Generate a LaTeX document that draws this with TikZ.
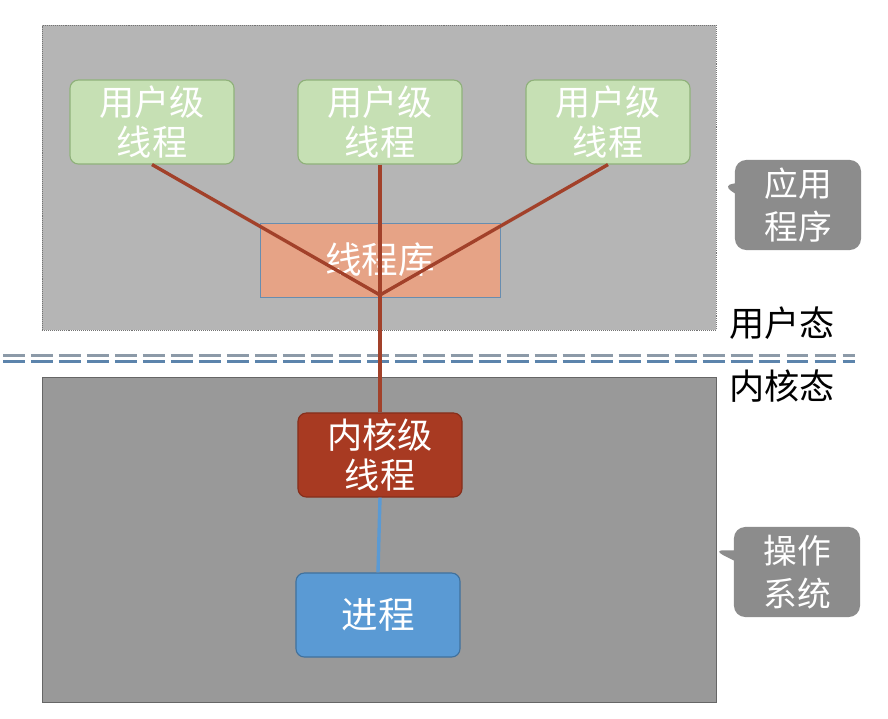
\documentclass[tikz,border=0pt]{standalone}
\usepackage{fontspec}
\setmainfont{Noto Sans CJK SC}
\usepackage{tikz}
\usetikzlibrary{shapes.callouts,positioning,calc}
\definecolor{userfill}{HTML}{C6E0B4}
\definecolor{userline}{HTML}{8FB17A}
\definecolor{libfill}{HTML}{E6A386}
\definecolor{kernfill}{HTML}{A83A22}
\definecolor{procfill}{HTML}{5A9AD4}
\definecolor{procline}{HTML}{41719C}
\definecolor{linkred}{HTML}{A2412A}
\definecolor{sepgray}{HTML}{8C9AA8}
\definecolor{sepblue}{HTML}{5C84AC}
\tikzset{
  thread/.style={draw,rounded corners=6pt,line width=0.8pt,
    minimum width=4.1cm,minimum height=2.1cm,align=center,
    text=white,font=\fontsize{25}{29}\selectfont},
  link/.style={draw=linkred,line width=2.4pt},
  tag/.style={rectangle callout,rounded corners=8pt,fill=black!45,
    text=white,align=center,minimum width=3.15cm,minimum height=2.25cm,
    font=\fontsize{24}{31}\selectfont},
  mode/.style={font=\fontsize{25}{28}\selectfont,text=black},
  sep/.style={line width=1.8pt,dash pattern=on 15.6pt off 4.3pt}
}
\begin{document}
\begin{tikzpicture}[x=0.025cm,y=-0.025cm]
  \useasboundingbox (0,0) rectangle (888,718);
  % user space and kernel space regions
  \fill[white] (0,0) rectangle (888,718);
  \node[draw=black!55,densely dotted,fill=black!29,minimum width=16.85cm,
    minimum height=7.62cm,inner sep=0pt] (app) at (379,177.5) {};
  \node[draw=black!60,fill=black!40,minimum width=16.85cm,
    minimum height=8.12cm,inner sep=0pt] (os) at (379,539.5) {};
  % mode separator
  \draw[sep,sepgray] (3,355.5) -- (855,355.5);
  \draw[sep,sepblue] (3,361.5) -- (855,361.5);
  \node[mode] (usermode) at (782,323) {用户态};
  \node[mode] (kernmode) at (782,386) {内核态};
  % threads
  \node[thread,fill=userfill,draw=userline] (ut1) at (152,122) {用户级\\线程};
  \node[thread,fill=userfill,draw=userline] (ut2) at (380,122) {用户级\\线程};
  \node[thread,fill=userfill,draw=userline] (ut3) at (608,122) {用户级\\线程};
  \node[draw=procline!80,line width=0.6pt,fill=libfill,minimum width=6cm,
    minimum height=1.85cm,text=white,font=\fontsize{26}{30}\selectfont]
    (lib) at (380,260) {线程库};
  \node[thread,fill=kernfill,draw=kernfill!80!black] (kt) at (380,455) {内核级\\线程};
  \node[thread,fill=procfill,draw=procline,font=\fontsize{26}{30}\selectfont]
    (proc) at (378,615) {进程};
  \coordinate (hub) at (380,295);
  \draw[link] (ut1.south) -- (hub);
  \draw[link] (ut2.south) -- (hub);
  \draw[link] (ut3.south) -- (hub);
  \draw[link] (hub) -- (kt.north);
  \draw[procfill,line width=2.4pt] (kt.south) -- (proc.north);
  % side tags
  \node[tag,callout absolute pointer={(722,185)}] (apptag) at (798,205) {应用\\程序};
  \node[tag,callout absolute pointer={(713,550)}] (ostag) at (797,572) {操作\\系统};
\end{tikzpicture}
\end{document}
